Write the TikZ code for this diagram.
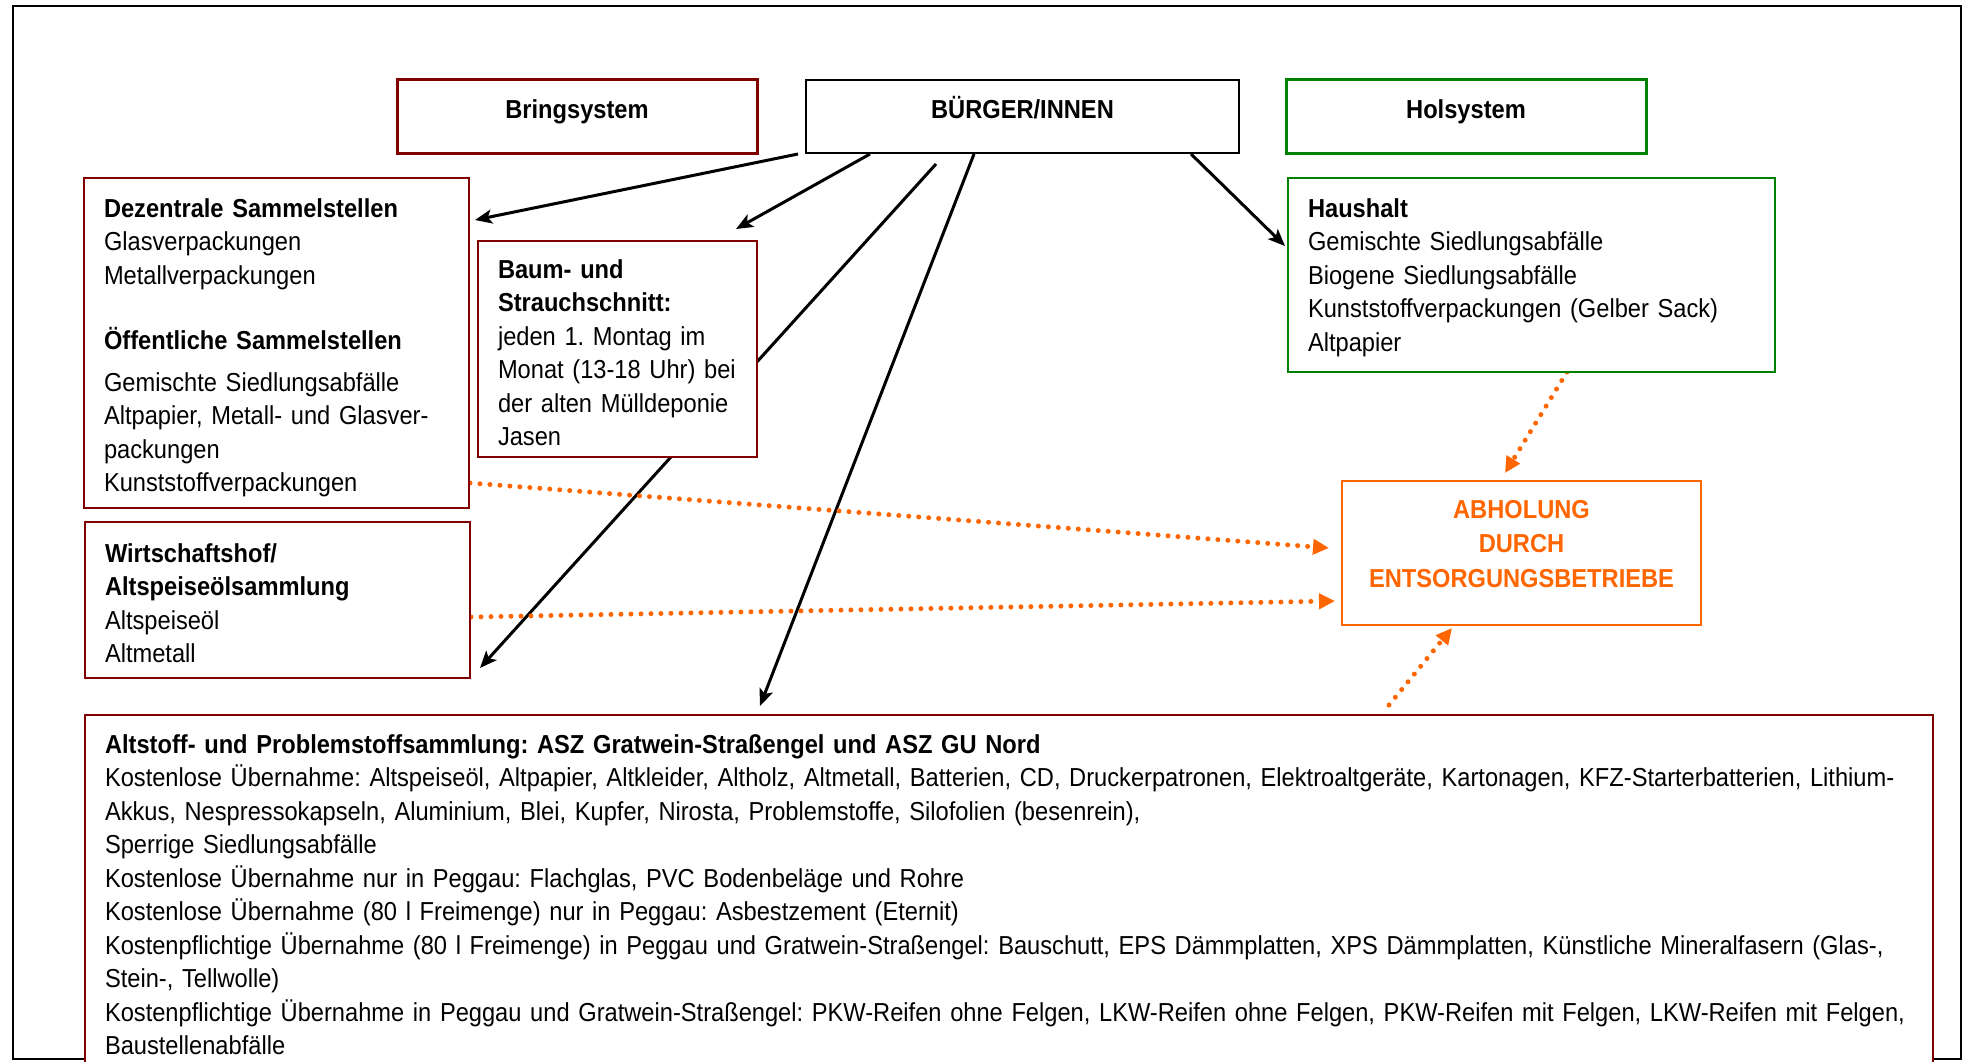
\documentclass[tikz,border=0pt]{standalone}
\usepackage{fontspec}
\setmainfont{Liberation Sans}[FakeStretch=0.91]
\usetikzlibrary{arrows.meta, positioning, backgrounds}

\definecolor{bringred}{RGB}{128,0,0}
\definecolor{holgreen}{RGB}{0,128,0}
\definecolor{pickorange}{RGB}{255,102,0}

\newcommand{\toppad}[1]{\rule{0pt}{#1}}
\newcommand{\botpad}[1]{\rule[-#1]{0pt}{#1}}
\frenchspacing
\hyphenpenalty=10000

\tikzset{
x=1pt, y=-1pt, % one unit is one pixel of the page, y runs downwards
>={Stealth[length=17pt,width=14pt,inset=4pt]}, % black arrow heads
every node/.style={font=\fontsize{26}{33.5}\selectfont}, % narrow sans text
headbox/.style={draw, line width=3pt, minimum width=360pt, minimum height=74pt, text height=19pt, text depth=15pt, font=\fontsize{26}{33.5}\selectfont\bfseries}, % the three boxes on top
infobox/.style={draw=bringred, line width=2pt, fill=white, anchor=north west, align=left, outer sep=0pt, inner xsep=20pt, inner ysep=0pt}, % boxes with lists
flow/.style={->, line width=3pt}, % from the citizens
pickup/.style={-{Triangle[length=16pt,width=15pt]}, draw=pickorange, line width=5pt, line cap=round, dash pattern=on 0pt off 10pt}, % collection
}

\begin{document}
\begin{tikzpicture}
\useasboundingbox (0,0) rectangle (1966,1061);

% top row
\node[headbox, line width=2pt, minimum width=433pt, minimum height=73pt] (buerger) at (1022.5,116.5) {BÜRGER/INNEN};
\node[headbox, draw=bringred, left=46.5pt of buerger] (bring) {Bringsystem};
\node[headbox, draw=holgreen, right=44.5pt of buerger] (hol) {Holsystem};

% Bringsystem
\node[infobox, text width=345pt] (dezentral) at (84,178) {\toppad{39pt}\textbf{Dezentrale Sammelstellen}\\
Glasverpackungen\\
Metallverpackungen\\[31.5pt]
\textbf{Öffentliche Sammelstellen}\\[8.5pt]
Gemischte Siedlungsabfälle\\
Altpapier, Metall- und Glasver-\\
packungen\\
Kunststoffverpackungen\botpad{16.5pt}};
\node[infobox, text width=239pt] (baum) at (478,241) {\toppad{37pt}\textbf{Baum- und}\\
\textbf{Strauchschnitt:}\\
jeden 1. Montag im\\
Monat (13-18 Uhr) bei\\
der alten Mülldeponie\\
Jasen\botpad{11.5pt}};
\node[infobox, text width=345pt] (wirtschaft) at (85,522) {\toppad{40pt}\textbf{Wirtschaftshof/}\\
\textbf{Altspeiseölsammlung}\\
Altspeiseöl\\
Altmetall\botpad{15.5pt}};
\node[infobox, text width=1808pt] (asz) at (85,715) {\toppad{38pt}\textbf{Altstoff- und Problemstoffsammlung: ASZ Gratwein-Straßengel und ASZ GU Nord}\\
Kostenlose Übernahme: Altspeiseöl, Altpapier, Altkleider, Altholz, Altmetall, Batterien, CD, Druckerpatronen, Elektroaltgeräte, Kartonagen, KFZ-Starterbatterien, Lithium-\\
Akkus, Nespressokapseln, Aluminium, Blei, Kupfer, Nirosta, Problemstoffe, Silofolien (besenrein),\\
Sperrige Siedlungsabfälle\\
Kostenlose Übernahme nur in Peggau: Flachglas, PVC Bodenbeläge und Rohre\\
Kostenlose Übernahme (80 l Freimenge) nur in Peggau: Asbestzement (Eternit)\\
Kostenpflichtige Übernahme (80 l Freimenge) in Peggau und Gratwein-Straßengel: Bauschutt, EPS Dämmplatten, XPS Dämmplatten, Künstliche Mineralfasern (Glas-,\\
Stein-, Tellwolle)\\
Kostenpflichtige Übernahme in Peggau und Gratwein-Straßengel: PKW-Reifen ohne Felgen, LKW-Reifen ohne Felgen, PKW-Reifen mit Felgen, LKW-Reifen mit Felgen,\\
Baustellenabfälle\botpad{20pt}};

% Holsystem
\node[infobox, draw=holgreen, text width=447pt] (haushalt) at (1288,178) {\toppad{39pt}\textbf{Haushalt}\\
Gemischte Siedlungsabfälle\\
Biogene Siedlungsabfälle\\
Kunststoffverpackungen (Gelber Sack)\\
Altpapier\botpad{21pt}};
\node[infobox, draw=pickorange, text=pickorange, align=center, text width=319pt, font=\fontsize{26}{33.5}\selectfont\bfseries] (abholung) at (1342,481) {\toppad{37pt}ABHOLUNG\\[1pt]
DURCH\\[1pt]
ENTSORGUNGSBETRIEBE\botpad{38pt}};

\begin{scope}[on background layer]
\draw[line width=2pt] (12.5,5.7) rectangle (1961,1059);
% who brings what where
\draw[flow] ([xshift=-7pt]buerger.south west) -- ([xshift=6pt,yshift=-42pt]dezentral.north east);
\draw[flow] ([xshift=65pt]buerger.south west) -- ([xshift=-21pt,yshift=12pt]baum.north east);
\draw[flow] ([xshift=131pt,yshift=-10pt]buerger.south west) -- ([xshift=10pt,yshift=10pt]wirtschaft.south east);
\draw[flow] ([xshift=169pt]buerger.south west) -- ([xshift=-249pt,yshift=9pt]asz.north);
\draw[flow] ([xshift=-49pt]buerger.south east) -- ([xshift=-3pt,yshift=-68pt]haushalt.north west);
% picked up by the waste companies
\draw[pickup] ([xshift=1pt,yshift=25pt]dezentral.south east) -- ([xshift=-13pt,yshift=5pt]abholung.west);
\draw[pickup] ([xshift=1pt,yshift=-17pt]wirtschaft.east) -- ([xshift=-7pt,yshift=-48pt]abholung.west);
\draw[pickup] ([xshift=35.5pt]haushalt.south) -- ([xshift=-16.5pt,yshift=8pt]abholung.north);
\draw[pickup] ([xshift=380pt,yshift=10pt]asz.north) -- ([xshift=110pt,yshift=-3pt]abholung.south west);
\end{scope}
\end{tikzpicture}
\end{document}
